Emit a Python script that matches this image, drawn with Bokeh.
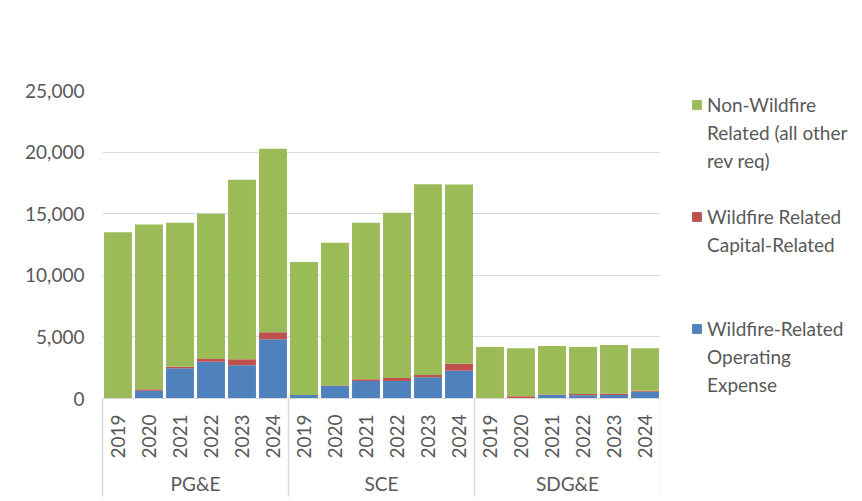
import math
from bokeh.plotting import figure
from bokeh.layouts import row
from bokeh.models import (ColumnDataSource, FactorRange, Range1d, Legend, LegendItem,
                          NumeralTickFormatter, SingleIntervalTicker, FixedTicker,
                          LinearAxis, CategoricalAxis)
from bokeh.embed import file_html
from bokeh.resources import INLINE

companies = ["PG&E", "SCE", "SDG&E"]
years = ["2019", "2020", "2021", "2022", "2023", "2024"]

# values per company, years 2019..2024 (same units as the chart axis)
opex = {
    "PG&E":  [0, 630, 2450, 2990, 2690, 4800],
    "SCE":   [280, 1010, 1420, 1420, 1720, 2260],
    "SDG&E": [0, 20, 280, 260, 280, 550],
}
capital = {
    "PG&E":  [0, 120, 130, 220, 490, 570],
    "SCE":   [0, 50, 140, 240, 180, 570],
    "SDG&E": [0, 160, 50, 110, 100, 80],
}
non_wildfire = {
    "PG&E":  [13500, 13370, 11690, 11790, 14580, 14910],
    "SCE":   [10800, 11590, 12710, 13420, 15500, 14550],
    "SDG&E": [4180, 3890, 3930, 3810, 3960, 3440],
}

series_keys = ["opex", "capital", "non_wildfire"]
# legend text, wrapped into lines as in the reference
series_label_lines = {
    "opex": ["Wildfire-Related", "Operating", "Expense"],
    "capital": ["Wildfire Related", "Capital-Related"],
    "non_wildfire": ["Non-Wildfire", "Related (all other", "rev req)"],
}
colors = {"opex": "#4F81BD", "capital": "#C0504D", "non_wildfire": "#9BBB59"}

factors = [(c, y) for c in companies for y in years]
data = {"x": factors,
        "opex": [v for c in companies for v in opex[c]],
        "capital": [v for c in companies for v in capital[c]],
        "non_wildfire": [v for c in companies for v in non_wildfire[c]]}
source = ColumnDataSource(data)

TEXT = "#595959"
GRID = "#D9D9D9"
FONT = "Lato"

p = figure(x_range=FactorRange(*factors, group_padding=0, factor_padding=0, range_padding=0),
           y_range=Range1d(0, 25000), x_axis_location=None,
           frame_width=558, frame_height=308,
           min_border_left=102, min_border_right=0, min_border_top=85, min_border_bottom=108,
           output_backend="svg", toolbar_location=None, align="start")

renderers = p.vbar_stack(series_keys, x="x", width=0.9, source=source,
                         color=[colors[k] for k in series_keys], line_color=None)

# group boundaries, as positions along the factor range -> separator lines under the axis
bounds = [0]
for c in companies:
    bounds.append(bounds[-1] + len(years))
sep_axis = LinearAxis(ticker=FixedTicker(ticks=bounds),
                      major_label_overrides={b: "" for b in bounds},
                      axis_line_color=None, major_tick_out=0, major_tick_in=-98,
                      major_tick_line_color=GRID, major_tick_line_width=1.5,
                      minor_tick_line_color=None, major_label_standoff=0)
p.add_layout(sep_axis, "below")

xax = CategoricalAxis()
xax.axis_line_color = GRID
xax.major_tick_line_color = None
xax.minor_tick_line_color = None
xax.major_label_orientation = math.pi / 2
xax.major_label_standoff = 10
xax.major_label_text_font = FONT
xax.major_label_text_font_size = "19px"
xax.major_label_text_color = TEXT
xax.group_text_font = FONT
xax.group_text_font_size = "19px"
xax.group_text_font_style = "normal"
xax.group_text_color = TEXT
xax.separator_line_color = None
p.add_layout(xax, "below")

yax = p.yaxis[0]
yax.ticker = SingleIntervalTicker(interval=5000)
yax.formatter = NumeralTickFormatter(format="0,0")
yax.axis_line_color = None
yax.major_tick_line_color = None
yax.minor_tick_line_color = None
yax.major_label_standoff = 12
yax.major_label_text_font = FONT
yax.major_label_text_font_size = "19px"
yax.major_label_text_color = TEXT

p.outline_line_color = None
p.xgrid.visible = False
p.ygrid.grid_line_color = GRID
p.ygrid.grid_line_width = 1
p.ygrid.ticker = yax.ticker

# legend panel to the right of the chart
lg = figure(frame_width=171, frame_height=330,
            x_range=Range1d(0, 1), y_range=Range1d(0, 1),
            x_axis_location=None, y_axis_location=None,
            min_border_left=31, min_border_top=90, min_border_right=0, min_border_bottom=0,
            output_backend="svg", toolbar_location=None, align="start")
lg.outline_line_color = None
lg.xgrid.visible = False
lg.ygrid.visible = False

# swatch glyphs for the legend (one point each, kept outside the visible range)
swatch = {k: lg.vbar(x=[-5], top=[-5], bottom=[-6], width=0.9,
                     fill_color=colors[k], line_color=colors[k])
          for k in series_keys}
blank = lg.rect(x=[-5], y=[-5], width=0.1, height=0.1, fill_alpha=0, line_alpha=0)

items = []
order = list(reversed(series_keys))
for i, k in enumerate(order):
    lines = series_label_lines[k]
    items.append(LegendItem(label=lines[0], renderers=[swatch[k]], index=0))
    for ln in lines[1:]:
        items.append(LegendItem(label=ln, renderers=[blank], index=0))
    if i < len(order) - 1:
        for _ in range(4 - len(lines)):
            items.append(LegendItem(label=" ", renderers=[blank], index=0))

legend = Legend(items=items, location="top_left", orientation="vertical",
                glyph_width=11, glyph_height=11, label_standoff=5, spacing=0,
                label_height=28, padding=0, margin=0,
                border_line_color=None, background_fill_alpha=0,
                label_text_font=FONT, label_text_font_size="19px", label_text_color=TEXT)
lg.add_layout(legend, "center")

layout = row(p, lg, spacing=0)

open("out.html", "w").write(file_html(layout, INLINE))
